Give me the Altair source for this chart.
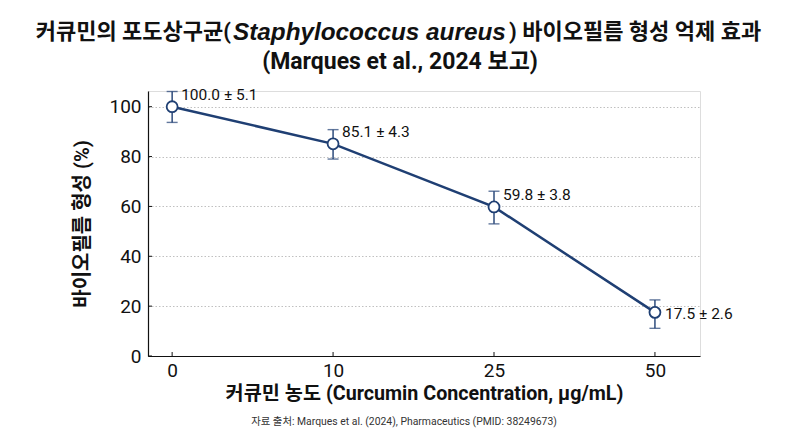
import altair as alt
import pandas as pd

# ---- data ----
concentrations = ["0", "10", "25", "50"]
biofilm = [100.0, 85.1, 59.8, 17.5]
sd = [5.1, 4.3, 3.8, 2.6]
err_low = [93.7, 79.0, 53.0, 11.1]
err_high = [106.1, 90.8, 66.1, 22.5]
y_ticks = [0, 20, 40, 60, 80, 100]

title_a = "커큐민의 포도상구균("
title_b = "Staphylococcus aureus"
title_c = ") 바이오필름 형성 억제 효과"
title_2 = "(Marques et al., 2024 보고)"
x_title = "커큐민 농도 (Curcumin Concentration, μg/mL)"
y_title = "바이오필름 형성 (%)"
source = "자료 출처: Marques et al. (2024), Pharmaceutics (PMID: 38249673)"

df = pd.DataFrame({
    "idx": list(range(len(concentrations))),
    "conc": concentrations,
    "val": biofilm,
    "lo": err_low,
    "hi": err_high,
    "label": [f"{v:.1f} ± {s:.1f}" for v, s in zip(biofilm, sd)],
})
df_ticks = pd.DataFrame({"t": y_ticks})

W, H = 552, 265
FONT = "Roboto, Noto Sans CJK KR, sans-serif"
NAVY = "#1f3f73"

label_expr = "[" + ",".join(f"'{c}'" for c in concentrations) + "][datum.value]"

x_enc = alt.X(
    "idx:Q",
    scale=alt.Scale(domain=[-0.15, 3.28], nice=False, zero=False),
    axis=alt.Axis(
        values=list(range(len(concentrations))),
        labelExpr=label_expr,
        title=x_title,
        grid=False,
        ticks=False,
        labelFontSize=19,
        labelPadding=5,
        labelColor="#111",
        titleFontSize=19.7,
        titleFontWeight="bold",
        titlePadding=3,
        titleColor="#111",
        domainColor="#111",
        domainWidth=1.2,
        labelFont=FONT,
        titleFont=FONT,
    ),
)
y_scale = alt.Scale(domain=[0, 106.3], nice=False)
y_enc = alt.Y(
    "val:Q",
    scale=y_scale,
    axis=alt.Axis(
        values=y_ticks,
        title=y_title,
        grid=True,
        gridDash=[1.5, 2],
        gridColor="#b0b0b0",
        gridWidth=0.8,
        ticks=False,
        labelFontSize=19,
        labelPadding=7,
        labelColor="#111",
        titleFontSize=20,
        titleFontWeight="bold",
        titlePadding=16,
        titleColor="#111",
        domainColor="#111",
        domainWidth=1.2,
        labelFont=FONT,
        titleFont=FONT,
    ),
)

base = alt.Chart(df)

line = base.mark_line(color=NAVY, strokeWidth=2.5).encode(x=x_enc, y=y_enc)

err = base.mark_rule(color=NAVY, strokeWidth=1.4).encode(
    x="idx:Q", y=alt.Y("lo:Q", scale=y_scale), y2="hi:Q"
)
cap_lo = base.mark_tick(color=NAVY, orient="horizontal", size=11, thickness=1.4).encode(
    x="idx:Q", y=alt.Y("lo:Q", scale=y_scale)
)
cap_hi = base.mark_tick(color=NAVY, orient="horizontal", size=11, thickness=1.4).encode(
    x="idx:Q", y=alt.Y("hi:Q", scale=y_scale)
)

points = base.mark_point(
    shape="circle", filled=True, fill="white", stroke=NAVY, strokeWidth=1.8, size=120, opacity=1
).encode(x="idx:Q", y=alt.Y("val:Q", scale=y_scale))

labels_up = base.transform_filter(alt.datum.idx < 3).mark_text(
    align="left", baseline="middle", dx=9, dy=-11.5, fontSize=15.5, font=FONT, color="#111"
).encode(x="idx:Q", y=alt.Y("val:Q", scale=y_scale), text="label:N")
labels_right = base.transform_filter(alt.datum.idx == 3).mark_text(
    align="left", baseline="middle", dx=10, dy=2, fontSize=15.5, font=FONT, color="#111"
).encode(x="idx:Q", y=alt.Y("val:Q", scale=y_scale), text="label:N")

# inward ticks
xticks = base.mark_rule(color="#111", strokeWidth=1).encode(
    x="idx:Q", y=alt.value(H - 4), y2=alt.value(H)
)
yticks = alt.Chart(df_ticks).mark_rule(color="#111", strokeWidth=1).encode(
    y=alt.Y("t:Q", scale=y_scale), x=alt.value(0), x2=alt.value(4)
)

def txt(s, x, y, align, size, weight="normal", style="normal", color="#111", font=FONT):
    return alt.Chart(pd.DataFrame({"s": [s]})).mark_text(
        align=align, baseline="middle", fontSize=size, fontWeight=weight,
        fontStyle=style, font=font, color=color
    ).encode(x=alt.value(x), y=alt.value(y), text="s:N")

t1a = txt(title_a, 83, -58.7, "right", 22, "bold")
t1b = txt(title_b, 85, -58.2, "left", 24.3, "bold", "italic", font="Liberation Sans, Arial, sans-serif")
t1c = txt(title_c, 361, -58.7, "left", 22, "bold")
t2 = txt(title_2, 252, -28.7, "center", 23, "bold")
src = txt(source, 256, 331, "center", 10.4, color="#333")

chart = alt.layer(
    line, err, cap_lo, cap_hi, points, labels_up, labels_right, xticks, yticks,
    t1a, t1b, t1c, t2, src
).properties(
    width=W, height=H,
    autosize=alt.AutoSizeParams(type="none"),
    padding={"left": 140, "top": 83, "right": 90, "bottom": 72},
).configure_view(stroke=None).configure(background="white")

chart.save("out.html", embed_options={"renderer": "svg", "actions": False})
